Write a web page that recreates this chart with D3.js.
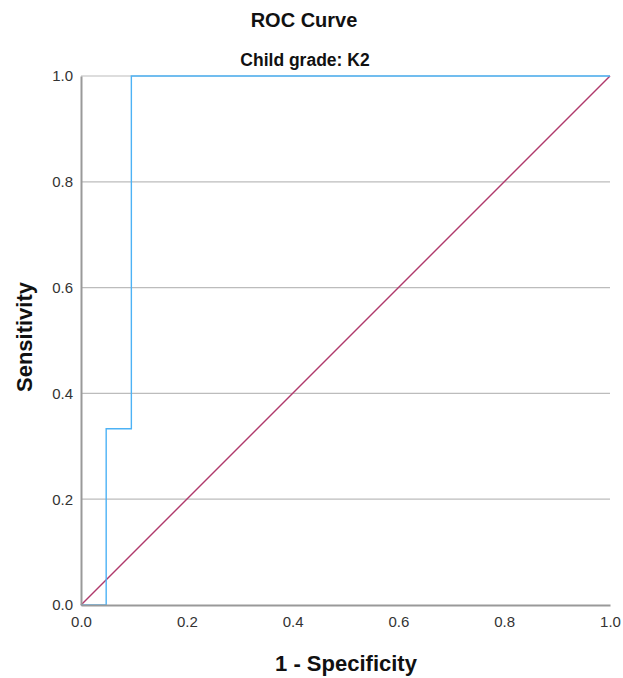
<!DOCTYPE html>
<html><head><meta charset="utf-8">
<script src="https://cdn.jsdelivr.net/npm/d3@7"></script>
<style>body{margin:0;background:#fff}svg{display:block}text{font-family:Arial,"Liberation Sans",sans-serif}</style>
</head><body>
<script>
const rocX = [0, 0.0476, 0.0476, 0.0952, 0.0952, 1];
const rocY = [0, 0, 0.3333, 0.3333, 1, 1];
const refX = [0, 1];
const refY = [0, 1];
const xTicks = [0, 0.2, 0.4, 0.6, 0.8, 1.0];
const yTicks = [0, 0.2, 0.4, 0.6, 0.8, 1.0];
const gridY = [0.2, 0.4, 0.6, 0.8, 1.0];

const W = 623, H = 678;
const m = {left: 81, right: 13, top: 76, bottom: 73};
const svg = d3.select("body").append("svg").attr("width", W).attr("height", H);
const x = d3.scaleLinear().domain([0,1]).range([m.left, W - m.right]);
const y = d3.scaleLinear().domain([0,1]).range([H - m.bottom, m.top]);

svg.append("g").selectAll("line").data(gridY).join("line")
  .attr("x1", x(0)).attr("x2", x(1)).attr("y1", d=>y(d)).attr("y2", d=>y(d))
  .attr("stroke", "#bcbcbc").attr("stroke-width", 1.2);

const line = d3.line().x(d=>x(d[0])).y(d=>y(d[1]));
svg.append("path").datum(refX.map((v,i)=>[v, refY[i]])).attr("d", line)
  .attr("fill","none").attr("stroke","#b03a6c").attr("stroke-width",1.4);
svg.append("path").datum(rocX.map((v,i)=>[v, rocY[i]])).attr("d", line)
  .attr("fill","none").attr("stroke","#4db2f5").attr("stroke-width",1.4);

const xa = svg.append("g").attr("transform", `translate(0,${y(0)})`)
  .call(d3.axisBottom(x).tickValues(xTicks).tickFormat(d3.format(".1f")).tickSize(0).tickPadding(11));
const ya = svg.append("g").attr("transform", `translate(${x(0)},0)`)
  .call(d3.axisLeft(y).tickValues(yTicks).tickFormat(d3.format(".1f")).tickSize(0).tickPadding(8));
[xa, ya].forEach(a => {
  a.select(".domain").attr("stroke", "#999").attr("stroke-width", 2);
  a.selectAll("text").attr("font-size", 15).attr("fill", "#333");
});

svg.append("text").attr("x", 304).attr("y", 27).attr("text-anchor","middle")
  .attr("font-size", 20).attr("font-weight","bold").attr("fill","#111").text("ROC Curve");
svg.append("text").attr("x", 305).attr("y", 66).attr("text-anchor","middle")
  .attr("font-size", 17.5).attr("font-weight","bold").attr("fill","#111").text("Child grade: K2");
svg.append("text").attr("x", 346).attr("y", 671).attr("text-anchor","middle")
  .attr("font-size", 22).attr("font-weight","bold").attr("fill","#111").text("1 - Specificity");
svg.append("text").attr("transform", "translate(32,337) rotate(-90)").attr("text-anchor","middle")
  .attr("font-size", 22).attr("font-weight","bold").attr("fill","#111").text("Sensitivity");
</script>
</body></html>
